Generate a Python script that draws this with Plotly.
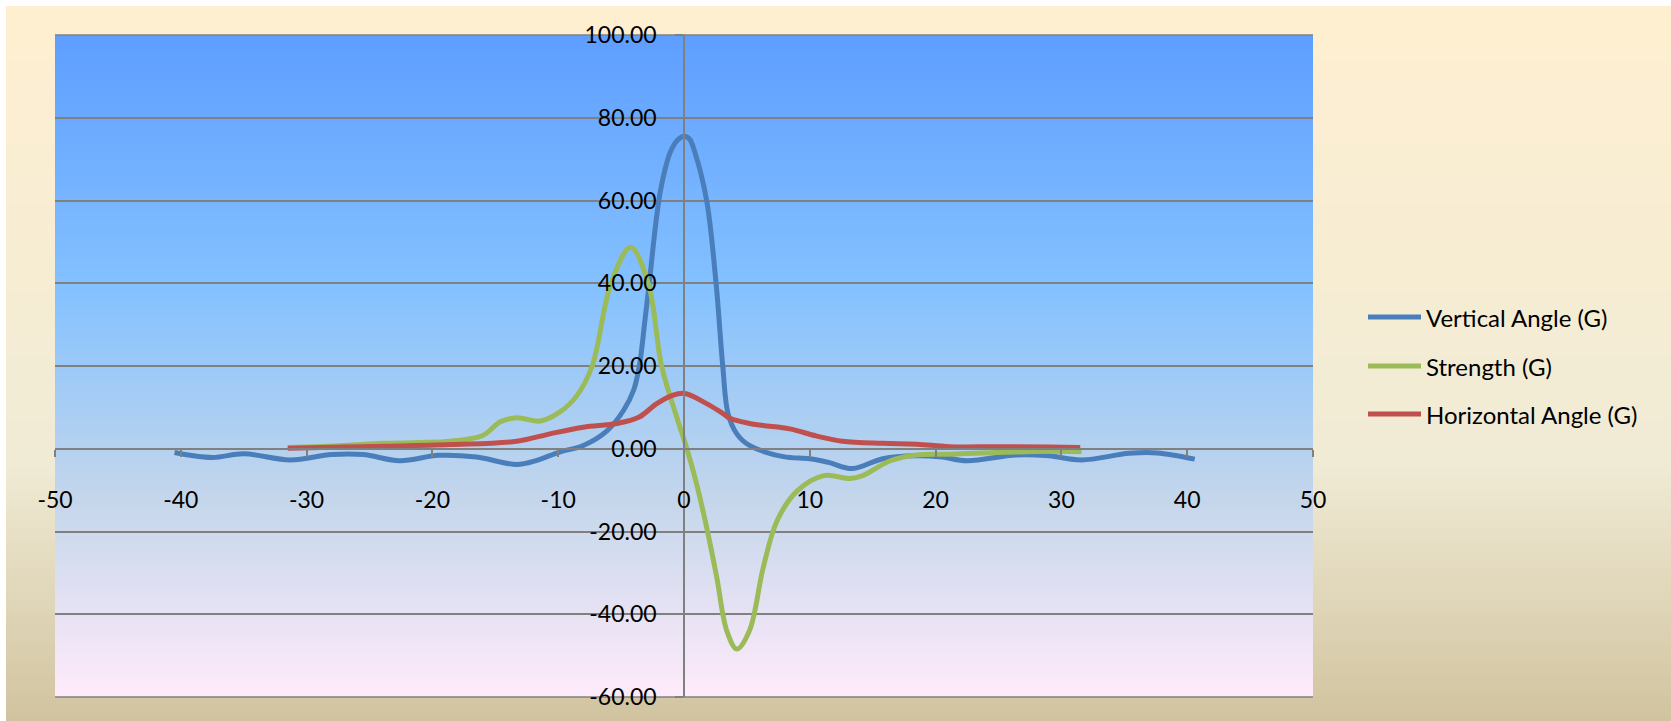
import numpy as np
import plotly.graph_objects as go

# ---- series data -------------------------------------------------------
vert_x = [-40.5, -37.5, -35, -31.3, -28, -25.5, -22.6, -19.5, -16.5, -13.3, -11.7,
          -9.9, -8.0, -6.1, -4.8, -4.0, -3.55, -3.1, -2.76, -2.2, -1.8, -1.1, -0.5,
          0.0, 0.45, 0.87, 1.8, 2.55, 3.08, 3.5, 4.2, 5.2, 7.9, 10, 11.5, 13.4, 15.8,
          18.5, 20.5, 22.5, 26.4, 29, 31.6, 35.4, 37.6, 40.6]
vert_y = [-0.9, -2.1, -1.2, -2.7, -1.4, -1.4, -2.9, -1.6, -2.0, -3.8, -2.8,
          -0.8, 0.8, 4.4, 9.3, 14.2, 20, 31.2, 40.1, 55.5, 63.5, 71.6, 74.6,
          75.5, 74.8, 71.6, 60, 40, 20, 8.5, 3.6, 0.8, -1.9, -2.4, -3.3, -4.8, -2.4,
          -1.7, -2.0, -2.9, -1.5, -1.7, -2.7, -1.1, -1.0, -2.5]

str_x = [-31.5, -27, -24, -21, -18.6, -16.0, -14.6, -13.3, -11.45, -9.86, -8.5,
         -7.3, -5.8, -4.24, -2.84, -1.78, -0.5, 0.2, 1.0, 1.8, 2.6, 3.4, 4.2, 5.2,
         6.3, 7.4, 9.0, 11.1, 13.2, 14.2, 16.4, 18.5, 21.1, 23.8, 26.4, 29, 31.6]
str_y = [0.3, 0.8, 1.3, 1.5, 1.8, 3.2, 6.5, 7.5, 6.7, 8.9, 12.9,
         20, 40, 48.7, 40, 20, 6.9, 0.3, -8.5, -19, -31, -44, -48.4, -44,
         -28.7, -17.4, -10.2, -6.5, -7.2, -6.5, -2.9, -1.5, -1.3, -1.0, -0.8, -0.6, -0.7]

hor_x = [-31.5, -27, -23.9, -18.6, -13.3, -10.65, -8.0, -5.35, -3.6, -2.17, -1.0, 0,
         1.8, 3.1, 3.7, 5.2, 6.3, 8.4, 10.5, 12.6, 15.8, 18.5, 21.1, 25, 29, 31.5]
hor_y = [0.1, 0.4, 0.6, 1.0, 1.8, 3.6, 5.2, 6.1, 7.6, 10.9, 12.8, 13.4,
         10.9, 8.5, 7.3, 6.1, 5.6, 4.8, 3.1, 1.8, 1.3, 1.1, 0.5, 0.5, 0.4, 0.3]

series_names = ["Vertical Angle (G)", "Strength (G)", "Horizontal Angle (G)"]
series_colors = ["#4A7EBB", "#9BBB59", "#C0504D"]
x_ticks = list(range(-50, 51, 10))
y_ticks = list(range(-60, 101, 20))

# ---- canvas geometry ---------------------------------------------------
W, H = 1671, 721
L, R, T, B = 55, 1313, 35, 697
FONT = "Lato"
GRID = "#808080"


def px_x(p):
    return (p - L) / (R - L)


def px_y(p):
    return (B - p) / (B - T)


def hex2rgb(h):
    h = h.lstrip("#")
    return np.array([int(h[i:i + 2], 16) for i in (0, 2, 4)], dtype=float)


def grad(stops, t):
    pos = [s[0] for s in stops]
    cols = [hex2rgb(s[1]) for s in stops]
    c = np.array([np.interp(t, pos, [col[k] for col in cols]) for k in range(3)])
    return "rgb(%d,%d,%d)" % tuple(np.round(c).astype(int))


shapes = []

# chart area gradient (parchment), top to bottom
chart_stops = [(0, "#FFEFD1"), (0.64, "#F0EBD5"), (1.0, "#D1C39F")]
top_px, bot_px = 6, H
n = 180
for i in range(n):
    y0 = top_px + (bot_px - top_px) * i / n
    y1 = top_px + (bot_px - top_px) * (i + 1) / n + 0.8
    shapes.append(dict(type="rect", xref="paper", yref="paper", layer="below",
                       x0=px_x(6), x1=px_x(W + 2), y0=px_y(y0), y1=px_y(min(y1, H + 2)),
                       fillcolor=grad(chart_stops, (i + 0.5) / n), line=dict(width=0)))

# plot area gradient (daybreak), top to bottom
plot_stops = [(0, "#5E9EFF"), (0.39, "#85C2FF"), (0.70, "#C4D6EB"), (1.0, "#FFEBFA")]
n = 165
for i in range(n):
    y0 = T + (B - T) * i / n
    y1 = T + (B - T) * (i + 1) / n + (0.8 if i < n - 1 else 0)
    shapes.append(dict(type="rect", xref="paper", yref="paper", layer="below",
                       x0=0, x1=1, y0=px_y(y0), y1=px_y(y1),
                       fillcolor=grad(plot_stops, (i + 0.5) / n), line=dict(width=0)))

# top and bottom border gridlines of the plot area
for yy in (0, 1):
    shapes.append(dict(type="line", xref="paper", yref="paper", layer="below",
                       x0=0, x1=1, y0=yy, y1=yy, line=dict(color=GRID, width=1.6)))

# ---- traces -------------------------------------------------------------
fig = go.Figure()
for xs, ys, name, col in [(vert_x, vert_y, series_names[0], series_colors[0]),
                          (str_x, str_y, series_names[1], series_colors[1]),
                          (hor_x, hor_y, series_names[2], series_colors[2])]:
    fig.add_trace(go.Scatter(x=xs, y=ys, name=name, mode="lines",
                             line=dict(color=col, width=5, shape="spline", smoothing=1.0),
                             showlegend=False))

# ---- legend drawn beside the plot ---------------------------------------
annotations = []
legend_rows = [317, 366, 414]
for name, col, ypx in zip(series_names, series_colors, legend_rows):
    shapes.append(dict(type="line", xref="paper", yref="paper", layer="above",
                       x0=px_x(1368), x1=px_x(1421), y0=px_y(ypx), y1=px_y(ypx),
                       line=dict(color=col, width=5)))
    annotations.append(dict(xref="paper", yref="paper", x=px_x(1424), y=px_y(ypx),
                            text=name, showarrow=False, xanchor="left", yanchor="middle",
                            font=dict(family=FONT, size=24, color="#000000")))

fig.update_layout(
    width=W, height=H, autosize=False,
    margin=dict(l=L, r=W - R, t=T, b=H - B, pad=0),
    paper_bgcolor="white", plot_bgcolor="rgba(0,0,0,0)",
    shapes=shapes, annotations=annotations,
    showlegend=False,
    xaxis=dict(range=[-50, 50], tickvals=x_ticks, ticktext=[str(v) for v in x_ticks],
               showgrid=False, zeroline=False, showline=True, linecolor=GRID,
               linewidth=1.6, ticks="outside", ticklen=7, tickwidth=1.6, tickcolor=GRID,
               anchor="free", position=0.375, ticklabelstandoff=24,
               tickfont=dict(family=FONT, size=23, color="#000000")),
    yaxis=dict(range=[-60, 100], tickvals=y_ticks, ticktext=["%.2f" % v for v in y_ticks],
               showgrid=True, gridcolor=GRID, gridwidth=1.6, zeroline=False,
               showline=True, linecolor=GRID, linewidth=1.6,
               ticks="outside", ticklen=8, tickwidth=1.6, tickcolor=GRID,
               anchor="free", position=0.5, ticklabelstandoff=14,
               tickfont=dict(family=FONT, size=23, color="#000000")),
)

fig.write_html("out.html")
